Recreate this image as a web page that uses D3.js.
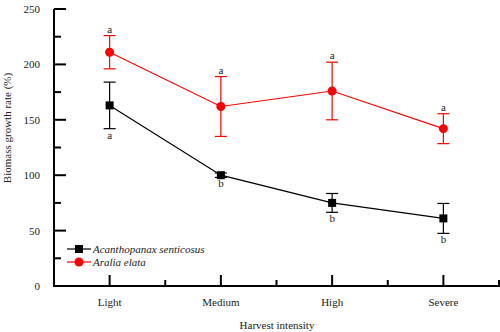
<!DOCTYPE html>
<html><head><meta charset="utf-8">
<script src="https://cdn.jsdelivr.net/npm/d3@7"></script>
<style>body{margin:0;background:#fff}svg{display:block}</style>
</head><body><svg id="c" width="500" height="332" font-family="'Liberation Serif', 'Times New Roman', 'DejaVu Serif', serif"></svg>
<script>
const categories = ["Light","Medium","High","Severe"];
const acanValues = [163, 100, 75, 61];
const acanErrors = [21, 2, 8.5, 13.5];
const acanLetters = ["a","b","b","b"];
const araliaValues = [211, 162, 176, 142];
const araliaErrors = [15, 27, 26, 13.5];
const araliaLetters = ["a","a","a","a"];
const yTicks = [0,50,100,150,200,250];

const svg = d3.select("#c");
const FONT = "'Liberation Serif', 'Times New Roman', serif";
const x = d3.scalePoint().domain(categories).range([54, 499]).padding(0.5);
const y = d3.scaleLinear().domain([0,250]).range([286, 9]);
const step = x.step();

const g = svg.append("g");
g.append("line").attr("x1",54).attr("x2",54).attr("y1",y(250)).attr("y2",y(0)).attr("stroke","#000").attr("stroke-width",2);
g.append("line").attr("x1",53).attr("x2",500).attr("y1",y(0)).attr("y2",y(0)).attr("stroke","#000").attr("stroke-width",2);
d3.range(0,251,25).forEach(v=>{
  const major = v%50===0;
  g.append("line").attr("x1",54).attr("x2",54+(major?12:7)).attr("y1",y(v)).attr("y2",y(v)).attr("stroke","#000").attr("stroke-width",2);
});
function txt(sel){ return sel.append("text").attr("font-family",FONT).attr("fill","#222").attr("font-size",11); }
yTicks.forEach(v=>{
  txt(g).attr("x",40).attr("y",y(v)+4).attr("text-anchor","end").text(v);
});
categories.forEach(c=>{
  g.append("line").attr("x1",x(c)).attr("x2",x(c)).attr("y1",y(0)).attr("y2",y(0)-11).attr("stroke","#000").attr("stroke-width",2);
  g.append("line").attr("x1",x(c)+step/2).attr("x2",x(c)+step/2).attr("y1",y(0)).attr("y2",y(0)-6).attr("stroke","#000").attr("stroke-width",2);
  txt(g).attr("x",x(c)).attr("y",306).attr("text-anchor","middle").text(c);
});
txt(svg).attr("x",277).attr("y",329).attr("text-anchor","middle").text("Harvest intensity");
txt(svg).attr("transform","translate(11,128) rotate(-90)").attr("text-anchor","middle").text("Biomass growth rate (%)");

function series(vals, errs, letters, color, shape, below){
  const gg = svg.append("g");
  const line = d3.line().x((d,i)=>x(categories[i])).y(d=>y(d));
  gg.append("path").attr("d",line(vals)).attr("fill","none").attr("stroke",color).attr("stroke-width",1.2);
  vals.forEach((v,i)=>{
    const cx = x(categories[i]);
    const t = y(v+errs[i]), b = y(v-errs[i]);
    gg.append("line").attr("x1",cx).attr("x2",cx).attr("y1",t).attr("y2",b).attr("stroke",color).attr("stroke-width",1.2);
    [t,b].forEach(yy=>gg.append("line").attr("x1",cx-6).attr("x2",cx+6).attr("y1",yy).attr("y2",yy).attr("stroke",color).attr("stroke-width",1.2));
    if(shape==="square") gg.append("rect").attr("x",cx-4).attr("y",y(v)-4).attr("width",8).attr("height",8).attr("fill",color);
    else gg.append("circle").attr("cx",cx).attr("cy",y(v)).attr("r",4.5).attr("fill",color);
    txt(gg).attr("x",cx).attr("y",below? b+10 : t-3).attr("text-anchor","middle").text(letters[i]);
  });
}
series(araliaValues, araliaErrors, araliaLetters, "#ff0000", "circle", false);
series(acanValues, acanErrors, acanLetters, "#000000", "square", true);

const lg = svg.append("g");
[["Acanthopanax senticosus","#000","square",249],["Aralia elata","#ff0000","circle",262]].forEach(([name,col,shp,yy])=>{
  lg.append("line").attr("x1",67).attr("x2",91).attr("y1",yy).attr("y2",yy).attr("stroke",col).attr("stroke-width",1.2);
  if(shp==="square") lg.append("rect").attr("x",75).attr("y",yy-4).attr("width",8).attr("height",8).attr("fill",col);
  else lg.append("circle").attr("cx",79).attr("cy",yy).attr("r",4.5).attr("fill",col);
  txt(lg).attr("x",93).attr("y",yy+4).attr("font-style","italic").text(name);
});
</script></body></html>
